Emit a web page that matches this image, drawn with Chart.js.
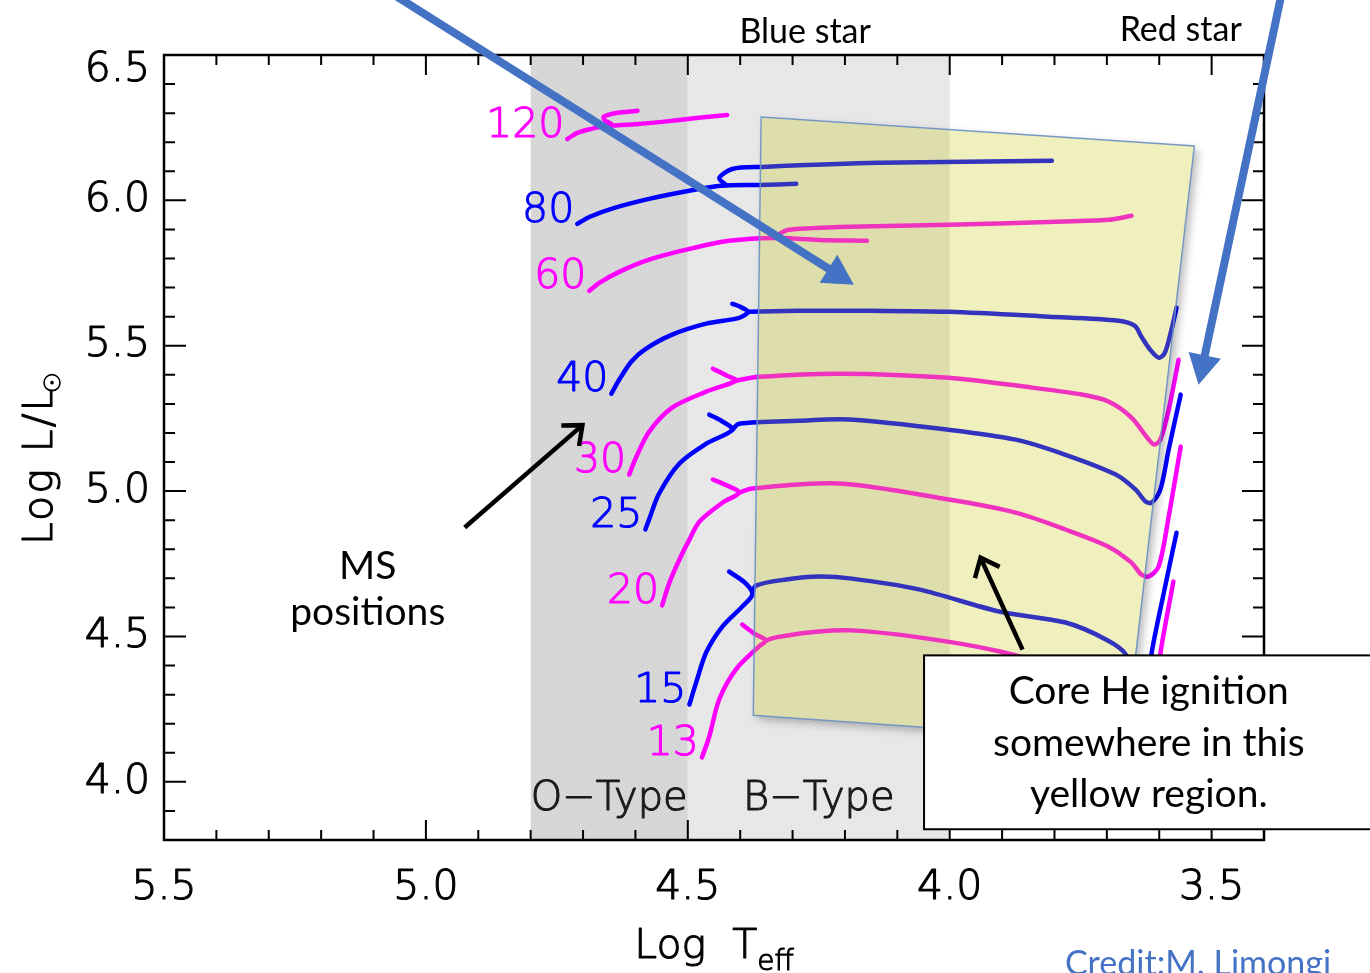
<!DOCTYPE html>
<html>
<head>
<meta charset="utf-8">
<script src="https://cdn.jsdelivr.net/npm/chart.js@4.4.1/dist/chart.umd.min.js"></script>
<style>
  html, body { margin: 0; padding: 0; background: #fff; }
  #wrap { width: 1370px; height: 973px; position: relative; }
</style>
</head>
<body>
<div id="wrap"><canvas id="hrd"></canvas></div>
<script>
// tracks as [log Teff, log L/Lsun]; "ms" runs from ZAMS to the hook, "post" is the crossing
const m120ms   = [[4.730,6.211],[4.711,6.232],[4.684,6.246],[4.657,6.256],[4.646,6.263],[4.657,6.273],[4.661,6.287],[4.646,6.297],[4.621,6.304],[4.596,6.308]];
const m120post = [[4.657,6.256],[4.600,6.262],[4.549,6.270],[4.484,6.283],[4.425,6.294]];
const m80ms    = [[4.711,5.919],[4.688,5.943],[4.640,5.974],[4.574,6.005],[4.497,6.033],[4.436,6.050],[4.364,6.053],[4.293,6.057]];
const m80post  = [[4.427,6.053],[4.440,6.077],[4.415,6.108],[4.358,6.115],[4.135,6.129],[3.805,6.136]];
const m60ms    = [[4.688,5.689],[4.669,5.716],[4.631,5.754],[4.574,5.796],[4.497,5.833],[4.421,5.861],[4.335,5.871],[4.250,5.864],[4.158,5.861]];
const m60post  = [[4.335,5.871],[4.322,5.888],[4.307,5.899],[4.192,5.909],[4.002,5.916],[3.811,5.926],[3.697,5.933],[3.653,5.947]];
const m40ms    = [[4.646,5.335],[4.631,5.383],[4.608,5.445],[4.583,5.486],[4.530,5.538],[4.465,5.576],[4.402,5.596],[4.385,5.617],[4.400,5.634],[4.415,5.644]];
const m40post  = [[4.385,5.617],[4.288,5.620],[4.154,5.620],[4.002,5.617],[3.811,5.600],[3.678,5.586],[3.647,5.569],[3.634,5.531],[3.617,5.486],[3.601,5.459],[3.590,5.473],[3.579,5.538],[3.567,5.631]];
const m30ms    = [[4.612,5.057],[4.598,5.119],[4.574,5.204],[4.530,5.287],[4.465,5.342],[4.408,5.380],[4.425,5.397],[4.452,5.421]];
const m30post  = [[4.408,5.380],[4.364,5.393],[4.211,5.404],[4.002,5.390],[3.843,5.356],[3.748,5.332],[3.697,5.308],[3.653,5.253],[3.620,5.177],[3.609,5.160],[3.598,5.177],[3.582,5.280],[3.563,5.452]];
const m25ms    = [[4.581,4.868],[4.574,4.902],[4.555,4.991],[4.516,5.095],[4.465,5.163],[4.415,5.211],[4.436,5.242],[4.459,5.263]];
const m25post  = [[4.415,5.211],[4.402,5.232],[4.288,5.242],[4.192,5.246],[4.002,5.211],[3.874,5.177],[3.779,5.125],[3.683,5.057],[3.645,5.005],[3.626,4.964],[3.615,4.960],[3.598,5.005],[3.582,5.143],[3.559,5.332]];
const m20ms    = [[4.549,4.607],[4.535,4.686],[4.516,4.765],[4.497,4.833],[4.478,4.895],[4.434,4.960],[4.402,4.995],[4.425,5.019],[4.452,5.040]];
const m20post  = [[4.402,4.995],[4.377,5.009],[4.211,5.026],[4.002,4.971],[3.874,4.926],[3.779,4.868],[3.697,4.809],[3.653,4.754],[3.634,4.713],[3.620,4.706],[3.601,4.741],[3.582,4.912],[3.559,5.153]];
const m15ms    = [[4.497,4.266],[4.484,4.342],[4.465,4.445],[4.434,4.534],[4.396,4.603],[4.377,4.644],[4.389,4.682],[4.421,4.723]];
const m15post  = [[4.377,4.644],[4.370,4.675],[4.312,4.696],[4.250,4.706],[4.187,4.699],[4.059,4.662],[3.906,4.586],[3.779,4.548],[3.702,4.490],[3.664,4.438],[3.643,4.284],[3.634,4.215],[3.624,4.284],[3.615,4.438],[3.592,4.644],[3.567,4.857]];
const m13ms    = [[4.473,4.084],[4.459,4.156],[4.440,4.284],[4.408,4.387],[4.364,4.466],[4.351,4.486],[4.373,4.510],[4.396,4.541]];
const m13post  = [[4.351,4.486],[4.332,4.497],[4.250,4.517],[4.187,4.521],[4.059,4.497],[3.906,4.449],[3.792,4.387],[3.678,4.284],[3.620,4.180],[3.605,4.284],[3.598,4.438],[3.573,4.689]];

const massLabels = ['120', '80', '60', '40', '30', '25', '20', '15', '13'];
const msTracks   = [m120ms, m80ms, m60ms, m40ms, m30ms, m25ms, m20ms, m15ms, m13ms];
const postTracks = [m120post, m80post, m60post, m40post, m30post, m25post, m20post, m15post, m13post];

const xTicks = [5.5, 5.0, 4.5, 4.0, 3.5];
const xTickLabels = ['5.5', '5.0', '4.5', '4.0', '3.5'];
const yTicks = [4.0, 4.5, 5.0, 5.5, 6.0, 6.5];
const yTickLabels = ['4.0', '4.5', '5.0', '5.5', '6.0', '6.5'];

// spectral type bands (log Teff)
const bandNames = ['O\u2212Type', 'B\u2212Type'];
const bandFrom  = [4.8, 4.5];
const bandTo    = [4.5, 4.0];

// core He ignition region (corners, log Teff / log L)
const heRegion = [[4.360,6.287],[3.533,6.187],[3.664,4.139],[4.375,4.229]];

// annotation arrows: [fromT, fromL, toT, toL]
const blueArrows  = [[5.060,6.706,4.183,5.710],[3.367,6.706,3.525,5.366]];
const blackArrows = [[4.926,4.875,4.696,5.235],[3.861,4.455,3.944,4.782]];

// styles
const trackColors = ['#ff00ff','#0000ff','#ff00ff','#0000ff','#ff00ff','#0000ff','#ff00ff','#0000ff','#ff00ff'];
const bandColors  = [['#d4d4d4','#dedede'], ['#e5e5e5','#eeeeee']];
const idl = '"DejaVu Sans", "Liberation Sans", sans-serif';
const tickFont = '200 41px ' + idl;
const noteFont = '"Lato", "Open Sans", sans-serif';

const datasets = [];
massLabels.forEach(function(m, i) {
  [msTracks[i], postTracks[i]].forEach(function(seg) {
    datasets.push({
      data: seg.map(function(p) { return {x: p[0], y: p[1]}; }),
      borderColor: trackColors[i],
      borderWidth: 4.5,
      pointRadius: 0,
      showLine: true,
      tension: 0.3,
      borderCapStyle: 'round',
      borderJoinStyle: 'round'
    });
  });
});

function hatch(ctx, base, light) {
  const c = document.createElement('canvas');
  c.width = 4; c.height = 4;
  const g = c.getContext('2d');
  g.fillStyle = base; g.fillRect(0, 0, 4, 4);
  g.fillStyle = light;
  g.fillRect(0, 0, 1, 1); g.fillRect(2, 2, 1, 1); g.fillRect(1, 1, 1, 1); g.fillRect(3, 3, 1, 1);
  return ctx.createPattern(c, 'repeat');
}

// thin font plus a hairline stroke, close to the IDL vector font weight
function idlText(ctx, s, x, y) {
  ctx.fillText(s, x, y);
  ctx.save();
  ctx.strokeStyle = ctx.fillStyle; ctx.lineWidth = 1.1; ctx.lineJoin = 'round';
  ctx.strokeText(s, x, y);
  ctx.restore();
}

function drawArrow(ctx, x0, y0, x1, y1, w, color, head, open) {
  const ang = Math.atan2(y1 - y0, x1 - x0);
  ctx.save();
  ctx.strokeStyle = color; ctx.fillStyle = color; ctx.lineWidth = w;
  if (open) {
    ctx.lineCap = 'butt';
    ctx.beginPath(); ctx.moveTo(x0, y0);
    ctx.lineTo(x1 - Math.cos(ang) * w * 0.7, y1 - Math.sin(ang) * w * 0.7);
    ctx.stroke();
    ctx.lineJoin = 'miter';
    ctx.beginPath();
    ctx.moveTo(x1 - head * Math.cos(ang - 0.6), y1 - head * Math.sin(ang - 0.6));
    ctx.lineTo(x1 - Math.cos(ang) * w * 0.8, y1 - Math.sin(ang) * w * 0.8);
    ctx.lineTo(x1 - head * Math.cos(ang + 0.6), y1 - head * Math.sin(ang + 0.6));
    ctx.stroke();
  } else {
    const bx = x1 - head * Math.cos(ang), by = y1 - head * Math.sin(ang);
    ctx.beginPath(); ctx.moveTo(x0, y0); ctx.lineTo(bx + Math.cos(ang) * 2, by + Math.sin(ang) * 2); ctx.stroke();
    const hw = head * 0.55;
    ctx.beginPath(); ctx.moveTo(x1, y1);
    ctx.lineTo(bx + hw * Math.sin(ang), by - hw * Math.cos(ang));
    ctx.lineTo(bx - hw * Math.sin(ang), by + hw * Math.cos(ang));
    ctx.closePath(); ctx.fill();
  }
  ctx.restore();
}

const hrdDecor = {
  id: 'hrdDecor',
  beforeDatasetsDraw(chart) {
    const ctx = chart.ctx, a = chart.chartArea, x = chart.scales.x;
    ctx.save();
    bandNames.forEach(function(name, i) {
      const x0 = x.getPixelForValue(bandFrom[i]), x1 = x.getPixelForValue(bandTo[i]);
      ctx.fillStyle = hatch(ctx, bandColors[i][0], bandColors[i][1]);
      ctx.fillRect(x0, a.top, x1 - x0, a.bottom - a.top);
      ctx.fillStyle = '#1a1a1a';
      ctx.font = '200 40px ' + idl;
      ctx.textAlign = 'center'; ctx.textBaseline = 'middle';
      idlText(ctx, name, (x0 + x1) / 2, a.bottom - 40);
    });
    ctx.restore();
  },
  afterDatasetsDraw(chart) {
    const ctx = chart.ctx, a = chart.chartArea, x = chart.scales.x, y = chart.scales.y;
    const W = chart.width, H = chart.height;
    const P = function(p) { return [x.getPixelForValue(p[0]), y.getPixelForValue(p[1])]; };
    ctx.save();

    // yellow region: soft shadow outside, translucent fill on top of the tracks
    const poly = heRegion.map(P);
    const path = function() {
      ctx.beginPath();
      poly.forEach(function(q, i) { if (i) ctx.lineTo(q[0], q[1]); else ctx.moveTo(q[0], q[1]); });
      ctx.closePath();
    };
    ctx.save();
    ctx.beginPath(); ctx.rect(0, 0, W, H);
    poly.forEach(function(q, i) { if (i) ctx.lineTo(q[0], q[1]); else ctx.moveTo(q[0], q[1]); });
    ctx.closePath();
    ctx.clip('evenodd');
    ctx.shadowColor = 'rgba(0,0,0,0.28)'; ctx.shadowBlur = 9; ctx.shadowOffsetX = 4; ctx.shadowOffsetY = 4;
    path(); ctx.fillStyle = '#000'; ctx.fill();
    ctx.restore();
    path();
    ctx.fillStyle = 'rgba(196,196,5,0.26)'; ctx.fill();
    ctx.strokeStyle = 'rgba(110,150,200,0.9)'; ctx.lineWidth = 1.5; ctx.stroke();

    // mass labels at the ZAMS end of each track
    ctx.font = tickFont; ctx.textAlign = 'right'; ctx.textBaseline = 'middle';
    massLabels.forEach(function(m, i) {
      const q = P(msTracks[i][0]);
      ctx.fillStyle = trackColors[i];
      idlText(ctx, m, q[0] - 3, q[1] - 13);
    });

    // frame and inward ticks on all four sides
    ctx.strokeStyle = '#000'; ctx.lineWidth = 2;
    ctx.beginPath();
    for (let k = 34; k <= 55; k++) {
      const p = x.getPixelForValue(k / 10);
      if (p <= a.left + 1 || p >= a.right - 1) continue;
      const len = k % 5 === 0 ? 20 : 10;
      ctx.moveTo(p, a.bottom); ctx.lineTo(p, a.bottom - len);
      ctx.moveTo(p, a.top); ctx.lineTo(p, a.top + len);
    }
    for (let k = 38; k <= 65; k++) {
      const p = y.getPixelForValue(k / 10);
      if (p <= a.top + 1 || p >= a.bottom - 1) continue;
      const len = k % 5 === 0 ? 22 : 11;
      ctx.moveTo(a.left, p); ctx.lineTo(a.left + len, p);
      ctx.moveTo(a.right, p); ctx.lineTo(a.right - len, p);
    }
    ctx.stroke();
    ctx.lineWidth = 2.5;
    ctx.strokeRect(a.left, a.top, a.right - a.left, a.bottom - a.top);

    // tick labels
    ctx.fillStyle = '#000'; ctx.font = tickFont;
    ctx.textAlign = 'center'; ctx.textBaseline = 'middle';
    xTicks.forEach(function(v, i) { idlText(ctx, xTickLabels[i], x.getPixelForValue(v), a.bottom + 48); });
    ctx.textAlign = 'right';
    yTicks.forEach(function(v, i) {
      const p = Math.max(y.getPixelForValue(v), a.top + 15);
      idlText(ctx, yTickLabels[i], a.left - 14, p);
    });

    // axis titles
    ctx.textAlign = 'left'; ctx.textBaseline = 'alphabetic';
    ctx.font = tickFont;
    const t1 = 'Log  T', w1 = ctx.measureText(t1).width;
    ctx.font = '200 28px ' + idl;
    const w2 = ctx.measureText('eff').width;
    const cx = (a.left + a.right) / 2 - (w1 + w2) / 2;
    ctx.font = tickFont; idlText(ctx, t1, cx, a.bottom + 118);
    ctx.font = '200 28px ' + idl; idlText(ctx, 'eff', cx + w1, a.bottom + 130);

    ctx.save();
    ctx.translate(a.left - 112, 545);
    ctx.rotate(-Math.PI / 2);
    ctx.font = tickFont;
    ctx.letterSpacing = '2px';
    idlText(ctx, 'Log L/L', 0, 0);
    const wl = ctx.measureText('Log L/L').width;
    ctx.letterSpacing = '0px';
    // sun symbol as a small ring with a dot, set as a subscript
    ctx.strokeStyle = '#000'; ctx.lineWidth = 1.6;
    ctx.beginPath(); ctx.arc(wl + 4, 0, 8, 0, Math.PI * 2); ctx.stroke();
    ctx.beginPath(); ctx.arc(wl + 4, 0, 1.8, 0, Math.PI * 2); ctx.fill();
    ctx.restore();

    // black annotation arrows
    blackArrows.forEach(function(r) {
      const s = P([r[0], r[1]]), e = P([r[2], r[3]]);
      drawArrow(ctx, s[0], s[1], e[0], e[1], 4.5, '#000', 24, true);
    });

    // text box
    const bl = x.getPixelForValue(4.049), bt = y.getPixelForValue(4.435), bb = y.getPixelForValue(3.837);
    ctx.fillStyle = '#fff';
    ctx.fillRect(bl, bt, W - bl + 10, bb - bt);
    ctx.strokeStyle = '#000'; ctx.lineWidth = 2;
    ctx.strokeRect(bl, bt, W - bl + 10, bb - bt);
    ctx.fillStyle = '#000'; ctx.textAlign = 'center';
    ctx.font = '39px ' + noteFont;
    const bcx = x.getPixelForValue(3.620);
    ctx.fillText('Core He ignition', bcx, bt + 49);
    ctx.fillText('somewhere in this', bcx, bt + 101);
    ctx.fillText('yellow region.', bcx, bt + 152);

    // free texts
    ctx.font = '39px ' + noteFont;
    ctx.fillText('MS', x.getPixelForValue(5.111), y.getPixelForValue(4.696));
    ctx.fillText('positions', x.getPixelForValue(5.111), y.getPixelForValue(4.541));
    ctx.font = '34px ' + noteFont;
    ctx.fillText('Blue star', x.getPixelForValue(4.276), a.top - 12);
    ctx.fillText('Red star', x.getPixelForValue(3.559), a.top - 14);
    ctx.textAlign = 'left';
    ctx.fillStyle = '#4472c4';
    ctx.font = '34px ' + noteFont;
    ctx.fillText('Credit:M. Limongi', 1065, H + 2);

    // big blue arrows
    blueArrows.forEach(function(r) {
      const s = P([r[0], r[1]]), e = P([r[2], r[3]]);
      drawArrow(ctx, s[0], s[1], e[0], e[1], 8, '#4472c4', 30, false);
    });

    ctx.restore();
  }
};

new Chart(document.getElementById('hrd'), {
  type: 'scatter',
  data: { datasets: datasets },
  options: {
    responsive: true,
    maintainAspectRatio: false,
    animation: false,
    events: [],
    layout: { padding: { left: 164, right: 106, top: 55, bottom: 133 } },
    plugins: { legend: { display: false }, tooltip: { enabled: false } },
    scales: {
      x: { type: 'linear', reverse: true, min: 3.4, max: 5.5, display: false },
      y: { type: 'linear', min: 3.8, max: 6.5, display: false }
    }
  },
  plugins: [hrdDecor]
});
</script>
</body>
</html>
